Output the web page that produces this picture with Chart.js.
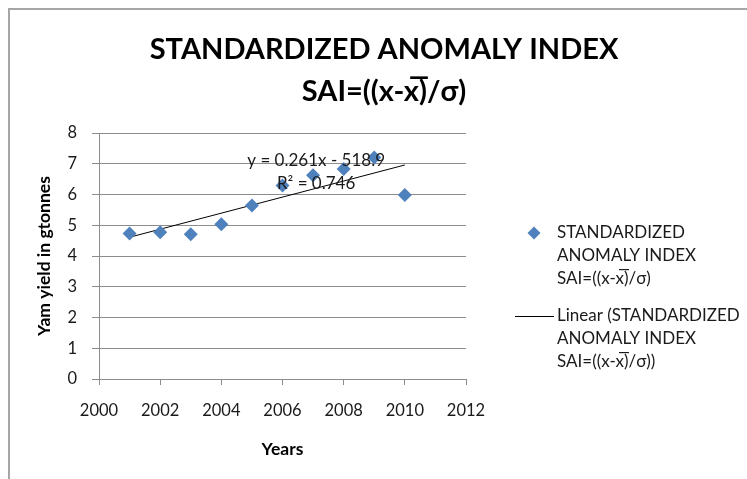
<!DOCTYPE html>
<html>
<head>
<meta charset="utf-8">
<script src="https://cdn.jsdelivr.net/npm/chart.js@4.4.1/dist/chart.umd.min.js"></script>
<style>
  html, body { margin: 0; padding: 0; background: #fff; }
  #wrap { position: relative; width: 747px; height: 479px; }
  #frame { position: absolute; left: 8px; top: 8px; right: -10px; bottom: -10px;
           border-top: 2px solid #a6a6a6; border-left: 2px solid #a6a6a6; pointer-events: none; }
</style>
</head>
<body>
<div id="wrap">
  <canvas id="saiChart" width="747" height="479"></canvas>
  <div id="frame"></div>
</div>
<script>
// values
const years = [2001, 2002, 2003, 2004, 2005, 2006, 2007, 2008, 2009, 2010];
const yamYield = [4.73, 4.77, 4.71, 5.03, 5.64, 6.29, 6.63, 6.83, 7.2, 5.98];
// Excel linear trendline, end points
const trendYears = [2001, 2010];
const trendValues = [4.61, 6.96];
const xTicks = [2000, 2002, 2004, 2006, 2008, 2010, 2012];
const yTicks = [0, 1, 2, 3, 4, 5, 6, 7, 8];

const titleLines = ['STANDARDIZED ANOMALY INDEX', 'SAI=((x-x\u0305)/\u03c3)'];
const equationLines = ['y = 0.261x - 518.9', 'R\u00b2 = 0.746'];
const legendSeries = ['STANDARDIZED', 'ANOMALY INDEX', 'SAI=((x-x\u0305)/\u03c3)'];
const legendTrend = ['Linear (STANDARDIZED', 'ANOMALY INDEX', 'SAI=((x-x\u0305)/\u03c3))'];

const FONT = 'Lato, "Open Sans", sans-serif';
const BLUE = '#4f81bd';
const GRID = '#8c8c8c';
const TEXT = '#1a1a1a';

// title (centred on the whole picture), equation label and right-hand legend
const extras = {
    id: 'extras',
    afterDatasetsDraw(chart) {
        const ctx = chart.ctx;
        const xs = chart.scales.x, ys = chart.scales.y;
        ctx.save();
        ctx.textBaseline = 'middle';

        ctx.fillStyle = '#000';
        ctx.textAlign = 'center';
        ctx.font = 'bold 29px ' + FONT;
        ctx.fillText(titleLines[0], 384, 50);
        ctx.fillText(titleLines[1], 384, 92);

        // trendline equation
        ctx.fillStyle = TEXT;
        ctx.font = '17px ' + FONT;
        const ex = xs.getPixelForValue(2007.1);
        ctx.fillText(equationLines[0], ex, ys.getPixelForValue(7.11));
        ctx.fillText(equationLines[1], ex, ys.getPixelForValue(6.37));

        // legend
        ctx.textAlign = 'left';
        const tx = 557;
        let y = 233;
        ctx.fillStyle = BLUE;
        ctx.beginPath();
        ctx.moveTo(534, y - 6.5); ctx.lineTo(540.5, y); ctx.lineTo(534, y + 6.5); ctx.lineTo(527.5, y);
        ctx.closePath();
        ctx.fill();
        ctx.fillStyle = TEXT;
        legendSeries.forEach((s, i) => ctx.fillText(s, tx, y + i * 23));

        y = 316;
        ctx.strokeStyle = '#000';
        ctx.lineWidth = 1;
        ctx.beginPath();
        ctx.moveTo(515, y + 0.5); ctx.lineTo(554, y + 0.5);
        ctx.stroke();
        legendTrend.forEach((s, i) => ctx.fillText(s, tx, y + i * 23));
        ctx.restore();
    }
};

new Chart(document.getElementById('saiChart'), {
    type: 'scatter',
    data: {
        datasets: [
            {
                label: titleLines.join(' '),
                data: years.map((yr, i) => ({ x: yr, y: yamYield[i] })),
                pointStyle: 'rectRot',
                pointRadius: 7,
                pointHoverRadius: 7,
                backgroundColor: BLUE,
                borderColor: BLUE,
                borderWidth: 0,
                order: 1
            },
            {
                type: 'line',
                label: 'Linear',
                data: trendYears.map((yr, i) => ({ x: yr, y: trendValues[i] })),
                borderColor: '#000',
                borderWidth: 1,
                pointRadius: 0,
                fill: false,
                order: 2
            }
        ]
    },
    options: {
        responsive: false,
        animation: false,
        layout: { padding: { left: 22, right: 281, top: 133, bottom: 0 } },
        plugins: {
            legend: { display: false },
            tooltip: { enabled: false },
            title: { display: false }
        },
        scales: {
            x: {
                type: 'linear',
                min: 2000,
                max: 2012,
                afterBuildTicks(scale) { scale.ticks = xTicks.map(v => ({ value: v })); },
                afterFit(scale) { scale.height = 100; },
                ticks: {
                    color: TEXT,
                    font: { family: FONT, size: 16.5 },
                    padding: 16,
                    callback: v => String(v)
                },
                grid: { drawOnChartArea: false, color: GRID, tickLength: 6 },
                border: { color: GRID },
                title: {
                    display: true,
                    text: 'Years',
                    color: '#000',
                    font: { family: FONT, size: 17.5, weight: 'bold' },
                    padding: { top: 18, bottom: 19 }
                }
            },
            y: {
                min: 0,
                max: 8,
                afterBuildTicks(scale) { scale.ticks = yTicks.map(v => ({ value: v })); },
                afterFit(scale) { scale.width = 77; },
                ticks: {
                    color: TEXT,
                    font: { family: FONT, size: 16.5 },
                    padding: 15
                },
                grid: { color: GRID, tickLength: 7 },
                border: { color: GRID },
                title: {
                    display: true,
                    text: 'Yam yield in gtonnes',
                    color: '#000',
                    font: { family: FONT, size: 17.5, weight: 'bold' },
                    padding: { top: 12, bottom: 12 }
                }
            }
        }
    },
    plugins: [extras]
});
</script>
</body>
</html>
